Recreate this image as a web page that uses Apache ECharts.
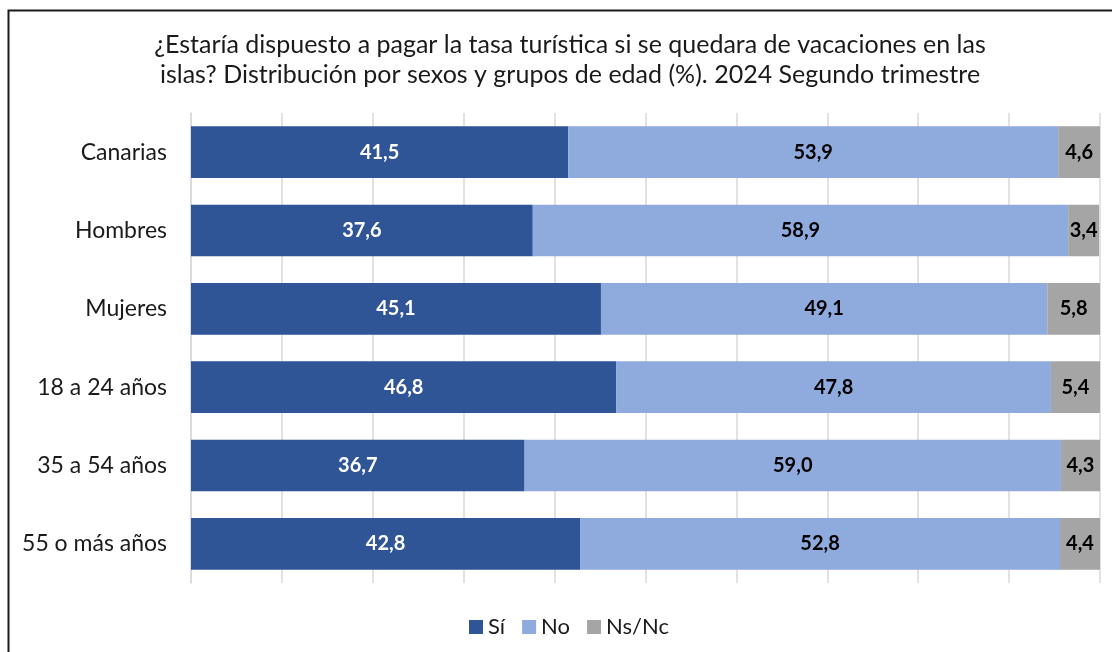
<!DOCTYPE html>
<html>
<head>
<meta charset="utf-8">
<script src="https://cdn.jsdelivr.net/npm/echarts@6/dist/echarts.min.js"></script>
<style>
html,body{margin:0;padding:0;background:#fff;}
#chart{width:1112px;height:652px;}
</style>
</head>
<body>
<div id="chart"></div>
<script>
const categories = ['Canarias', 'Hombres', 'Mujeres', '18 a 24 años', '35 a 54 años', '55 o más años'];
const si = [41.5, 37.6, 45.1, 46.8, 36.7, 42.8];
const no = [53.9, 58.9, 49.1, 47.8, 59.0, 52.8];
const nsnc = [4.6, 3.4, 5.8, 5.4, 4.3, 4.4];
const seriesNames = ['Sí', 'No', 'Ns/Nc'];
const titleText = '¿Estaría dispuesto a pagar la tasa turística si se quedara de vacaciones en las\nislas? Distribución por sexos y grupos de edad (%). 2024 Segundo trimestre';

const FONT = 'Lato';
const fmt = v => v.toFixed(1).replace('.', ',');

const chart = echarts.init(document.getElementById('chart'), null, {renderer: 'canvas'});

function mk(name, data, color, labelColor) {
  return {
    name: name,
    type: 'bar',
    stack: 'total',
    data: data,
    barWidth: '66%',
    itemStyle: {color: color},
    label: {
      show: true,
      position: 'inside',
      formatter: p => fmt(p.value),
      color: labelColor,
      fontFamily: FONT,
      fontWeight: 'bold',
      fontSize: 20
    },
    emphasis: {disabled: true}
  };
}

chart.setOption({
  animation: false,
  title: {
    text: titleText,
    left: 565,
    textAlign: 'center',
    top: 25,
    textStyle: {fontFamily: FONT, fontWeight: 'normal', fontSize: 25, color: '#1a1a1a', lineHeight: 30}
  },
  legend: {
    top: 611,
    left: 464,
    itemWidth: 14,
    itemHeight: 14,
    itemGap: 17,
    icon: 'rect',
    textStyle: {fontFamily: FONT, fontSize: 22, color: '#1a1a1a'},
    data: seriesNames
  },
  grid: {left: 191, right: 12, top: 113, bottom: 69, containLabel: false},
  xAxis: {
    type: 'value',
    min: 0,
    max: 100,
    interval: 10,
    axisLabel: {show: false},
    axisLine: {show: false},
    axisTick: {show: false},
    splitLine: {show: true, lineStyle: {color: '#d9d9d9', width: 1.5}}
  },
  yAxis: {
    type: 'category',
    inverse: true,
    data: categories,
    axisLine: {show: true, lineStyle: {color: '#d9d9d9', width: 1.5}},
    axisTick: {show: false},
    axisLabel: {fontFamily: FONT, fontSize: 23, color: '#1a1a1a', margin: 24}
  },
  graphic: [{
    type: 'rect',
    shape: {x: 8.5, y: 10.5, width: 1200, height: 800},
    style: {fill: null, stroke: '#1a1a1a', lineWidth: 2},
    silent: true
  }],
  series: [
    mk(seriesNames[0], si, '#2F5597', '#ffffff'),
    mk(seriesNames[1], no, '#8FAADC', '#000000'),
    mk(seriesNames[2], nsnc, '#A5A5A5', '#000000')
  ]
});
</script>
</body>
</html>
